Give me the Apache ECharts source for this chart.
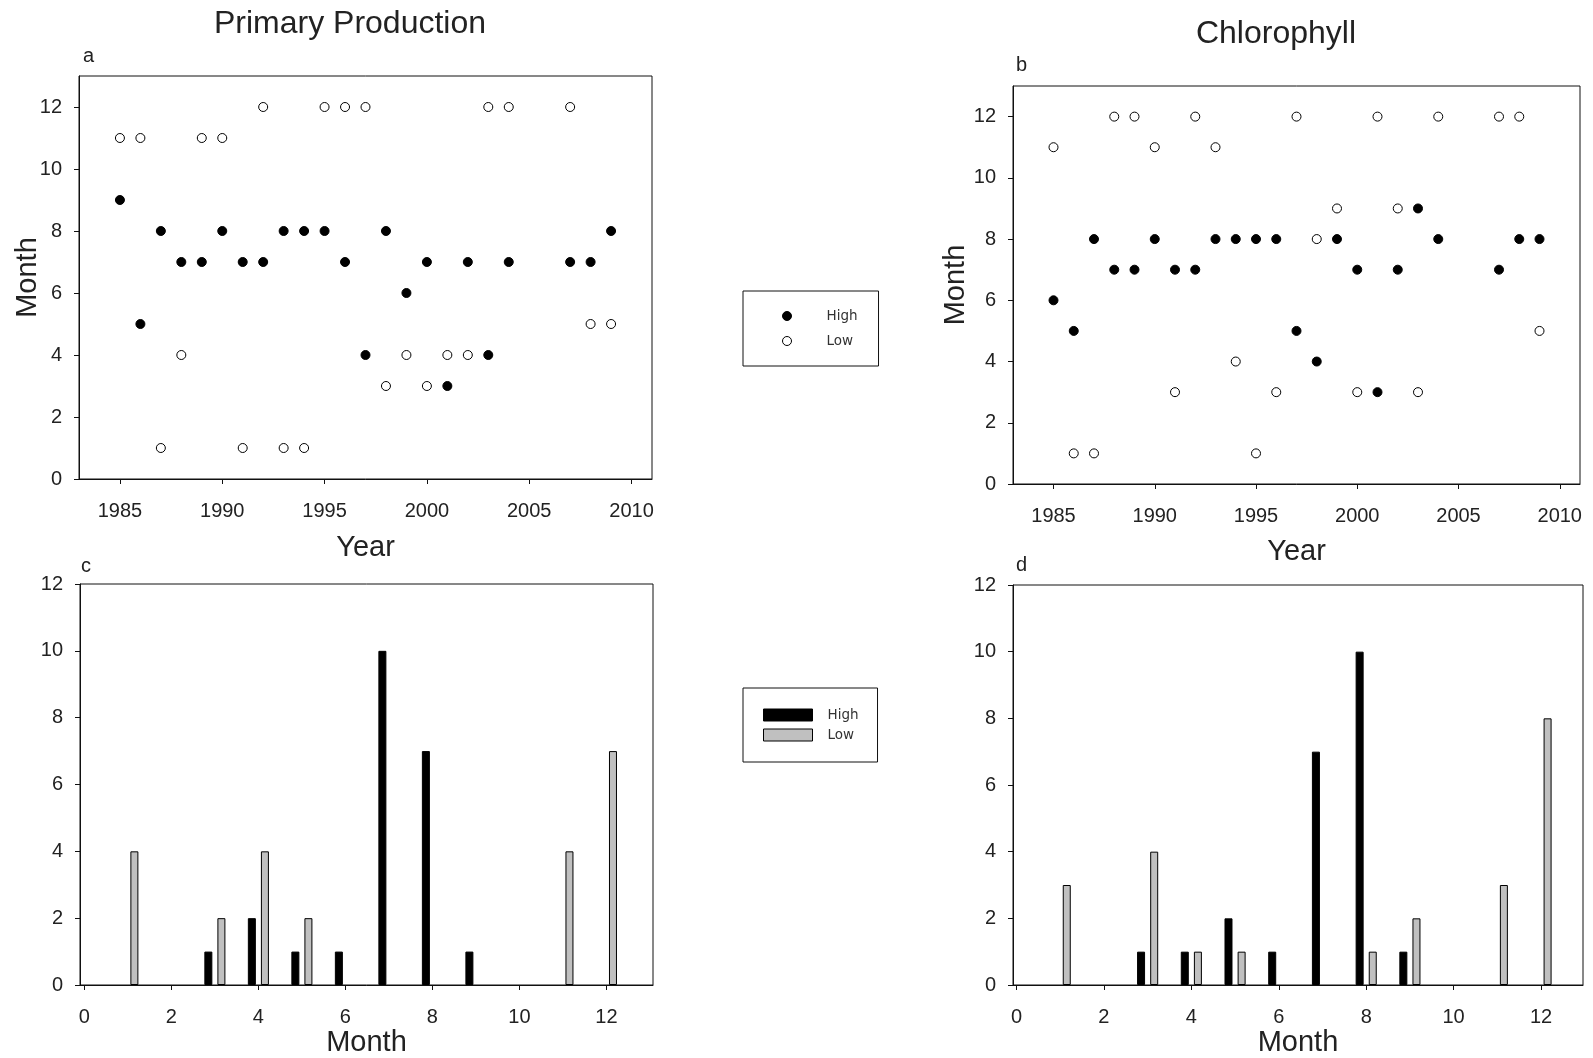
<!DOCTYPE html>
<html>
<head>
<meta charset="utf-8">
<title>Primary Production / Chlorophyll</title>
<script src="https://cdn.jsdelivr.net/npm/echarts@6/dist/echarts.min.js"></script>
<style>
    html, body { margin: 0; padding: 0; background: #fff; }
    #main { width: 1593px; height: 1058px; }
</style>
</head>
<body>
<div id="main"></div>
<script>
// years sampled (no data for 2005, 2006)
var years = [1985, 1986, 1987, 1988, 1989, 1990, 1991, 1992, 1993, 1994, 1995, 1996,
    1997, 1998, 1999, 2000, 2001, 2002, 2003, 2004, 2007, 2008, 2009];

// month of highest / lowest value per year
var ppHigh = [9, 5, 8, 7, 7, 8, 7, 7, 8, 8, 8, 7, 4, 8, 6, 7, 3, 7, 4, 7, 7, 7, 8];
var ppLow = [11, 11, 1, 4, 11, 11, 1, 12, 1, 1, 12, 12, 12, 3, 4, 3, 4, 4, 12, 12, 12, 5, 5];
var chlHigh = [6, 5, 8, 7, 7, 8, 7, 7, 8, 8, 8, 8, 5, 4, 8, 7, 3, 7, 9, 8, 7, 8, 8];
var chlLow = [11, 1, 1, 12, 12, 11, 3, 12, 11, 4, 1, 3, 12, 8, 9, 3, 12, 9, 3, 12, 12, 12, 5];

// how many years each month was the high / low month
var months = [1, 2, 3, 4, 5, 6, 7, 8, 9, 10, 11, 12];
var ppHighCount = [0, 0, 1, 2, 1, 1, 10, 7, 1, 0, 0, 0];
var ppLowCount = [4, 0, 2, 4, 2, 0, 0, 0, 0, 0, 4, 7];
var chlHighCount = [0, 0, 1, 1, 2, 1, 7, 10, 1, 0, 0, 0];
var chlLowCount = [3, 0, 4, 1, 1, 0, 0, 1, 2, 0, 3, 8];

// tick labels
var yearTicks = [1985, 1990, 1995, 2000, 2005, 2010];
var monthTicks = [0, 2, 4, 6, 8, 10, 12];

var chart = echarts.init(document.getElementById('main'));

var font = 'Liberation Sans, Arial, sans-serif',
    ink = '#222',
    grey = '#c0c0c0';

function box(left, top, width, height) {
    return {
        left: left, top: top, width: width, height: height,
        show: true, borderColor: '#111', borderWidth: 1, backgroundColor: 'transparent'
    };
}

function axis(gi, min, max, ticks, name, nameGap, isY) {
    return {
        type: 'value',
        gridIndex: gi,
        min: min,
        max: max,
        name: name,
        nameLocation: 'middle',
        nameGap: nameGap,
        nameMoveOverlap: false,
        nameTextStyle: { fontFamily: font, fontSize: 29, color: ink },
        axisLine: { show: true, onZero: false, lineStyle: { color: '#111', width: 1 } },
        axisTick: { show: true, length: 5, customValues: ticks, lineStyle: { color: '#111' } },
        axisLabel: {
            customValues: ticks,
            fontFamily: font, fontSize: 20, color: ink,
            margin: isY ? 17 : 22,
            // plain numbers, no thousands separator
            formatter: function (v) { return String(v); }
        },
        splitLine: { show: false }
    };
}

// scatter points
function points(xs, ys) {
    return xs.map(function (x, i) { return [x, ys[i]]; });
}

// bars, High just left of the month, Low just right
function bars(counts, shift) {
    var out = [];
    counts.forEach(function (c, i) {
        if (c > 0) out.push([months[i] + shift, c]);
    });
    return out;
}

var highDot = { color: '#000', borderColor: '#000', borderWidth: 1, opacity: 1 },
    lowDot = { color: '#fff', borderColor: '#000', borderWidth: 1, opacity: 1 },
    highBar = { color: '#000', borderColor: '#000', borderWidth: 1, opacity: 1 },
    lowBar = { color: grey, borderColor: '#000', borderWidth: 1, opacity: 1 };

var letter = { fontFamily: font, fontSize: 20, fontWeight: 'normal', color: ink };

var option = {
    backgroundColor: '#fff',
    animation: false,
    title: [
        { text: 'Primary Production', left: 350, top: 8, textAlign: 'center', padding: 0,
            textStyle: { fontFamily: font, fontSize: 32, fontWeight: 'normal', color: ink } },
        { text: 'Chlorophyll', left: 1276, top: 18, textAlign: 'center', padding: 0,
            textStyle: { fontFamily: font, fontSize: 32, fontWeight: 'normal', color: ink } },
        { text: 'a', left: 83, top: 46, padding: 0, textStyle: letter },
        { text: 'b', left: 1016, top: 55, padding: 0, textStyle: letter },
        { text: 'c', left: 81, top: 556, padding: 0, textStyle: letter },
        { text: 'd', left: 1016, top: 555, padding: 0, textStyle: letter }
    ],
    legend: [{
        orient: 'vertical',
        left: 743, top: 291,
        padding: [18, 21, 18, 39],
        itemGap: 11,
        itemWidth: 9, itemHeight: 9,
        borderColor: '#111', borderWidth: 1,
        selectedMode: false,
        textStyle: { fontFamily: 'DejaVu Sans', fontSize: 13.5, color: '#333', lineHeight: 14, padding: [0, 0, 0, 30] },
        data: [
            { name: 'High', icon: 'circle', itemStyle: highDot },
            { name: 'Low', icon: 'circle', itemStyle: lowDot }
        ]
    }, {
        orient: 'vertical',
        left: 743, top: 688,
        padding: [20, 19, 20, 20],
        itemGap: 6,
        itemWidth: 49, itemHeight: 12,
        borderColor: '#111', borderWidth: 1,
        selectedMode: false,
        textStyle: { fontFamily: 'DejaVu Sans', fontSize: 13.5, color: '#333', lineHeight: 14, padding: [0, 0, 0, 10] },
        data: [
            { name: 'High', icon: 'rect', itemStyle: highBar },
            { name: 'Low', icon: 'rect', itemStyle: lowBar }
        ]
    }],
    grid: [
        box(79, 76, 573, 403),
        box(1013, 86, 567, 398),
        box(80, 584, 573, 402),
        box(1013, 585, 570, 401)
    ],
    xAxis: [
        axis(0, 1983, 2011, yearTicks, 'Year', 54, false),
        axis(1, 1983, 2011, yearTicks, 'Year', 53, false),
        axis(2, -0.1, 13.07, monthTicks, 'Month', 43, false),
        axis(3, -0.08, 12.96, monthTicks, 'Month', 43, false)
    ],
    yAxis: [
        axis(0, 0, 13, monthTicks, 'Month', 37, true),
        axis(1, 0, 13, monthTicks, 'Month', 43, true),
        axis(2, 0, 12, monthTicks, '', 0, true),
        axis(3, 0, 12, monthTicks, '', 0, true)
    ],
    series: [
        { name: 'High', type: 'scatter', xAxisIndex: 0, yAxisIndex: 0, symbolSize: 9, itemStyle: highDot, data: points(years, ppHigh) },
        { name: 'Low', type: 'scatter', xAxisIndex: 0, yAxisIndex: 0, symbolSize: 9, itemStyle: lowDot, data: points(years, ppLow) },
        { name: 'High', type: 'scatter', xAxisIndex: 1, yAxisIndex: 1, symbolSize: 9, itemStyle: highDot, data: points(years, chlHigh) },
        { name: 'Low', type: 'scatter', xAxisIndex: 1, yAxisIndex: 1, symbolSize: 9, itemStyle: lowDot, data: points(years, chlLow) },
        { name: 'High', type: 'bar', xAxisIndex: 2, yAxisIndex: 2, barWidth: 8, barGap: '-100%', itemStyle: highBar, data: bars(ppHighCount, -0.15) },
        { name: 'Low', type: 'bar', xAxisIndex: 2, yAxisIndex: 2, barWidth: 8, barGap: '-100%', itemStyle: lowBar, data: bars(ppLowCount, 0.15) },
        { name: 'High', type: 'bar', xAxisIndex: 3, yAxisIndex: 3, barWidth: 8, barGap: '-100%', itemStyle: highBar, data: bars(chlHighCount, -0.15) },
        { name: 'Low', type: 'bar', xAxisIndex: 3, yAxisIndex: 3, barWidth: 8, barGap: '-100%', itemStyle: lowBar, data: bars(chlLowCount, 0.15) }
    ]
};

chart.setOption(option);
</script>
</body>
</html>
